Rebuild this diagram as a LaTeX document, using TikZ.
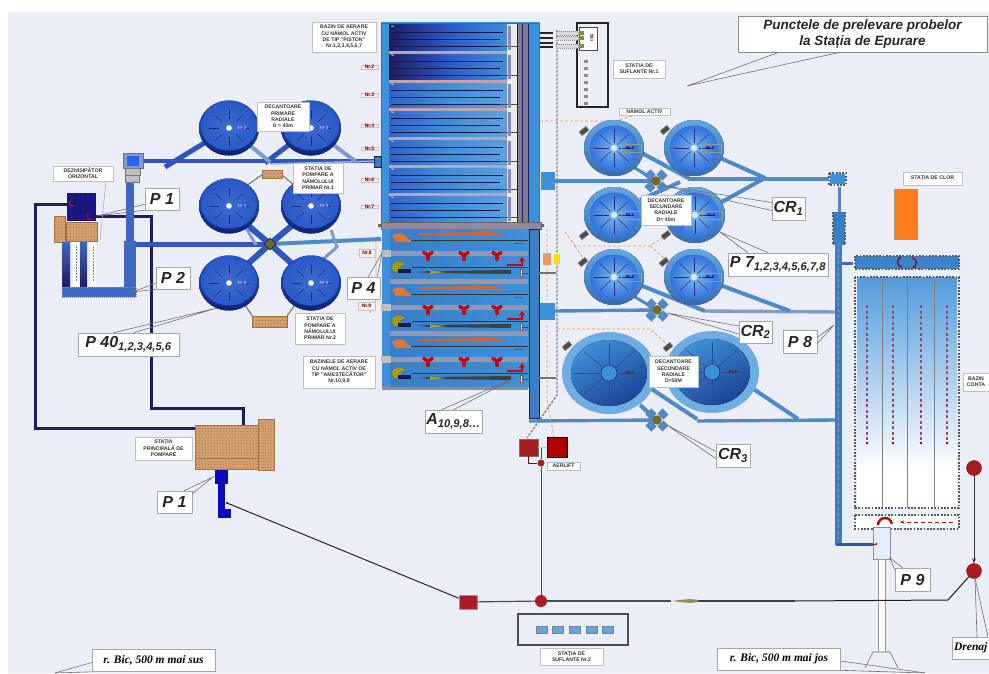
\documentclass[tikz,border=0pt]{standalone}
\usepackage{fontspec}
\setmainfont{Liberation Sans}
\newfontfamily\serifit{Liberation Serif}
\usetikzlibrary{calc,patterns,arrows.meta}
\definecolor{bgc}{HTML}{ECEEF7}
\definecolor{navy}{HTML}{1F1C62}
\definecolor{pipeD}{HTML}{2F56B8}
\definecolor{pipeM}{HTML}{3F68C2}
\definecolor{pipeL}{HTML}{4E8AC8}
\definecolor{pipeG}{HTML}{7E9CC8}
\definecolor{chan}{HTML}{3E90D8}
\definecolor{brownT}{HTML}{D6A274}
\definecolor{brownL}{HTML}{A87040}
\definecolor{leadc}{HTML}{6E6E78}
\definecolor{greyb}{HTML}{8E8AA0}
\definecolor{redd}{HTML}{A81C24}
\definecolor{oranged}{HTML}{E89A60}
\definecolor{clP}{HTML}{2A5AC8}
\definecolor{clPd}{HTML}{0E2278}
\definecolor{blob}{HTML}{D9783A}
\definecolor{dashr}{HTML}{A04A70}
\tikzset{
 lbl/.style={fill=white,draw=black!25,line width=.5pt,inner sep=0pt,align=center,font=\bfseries\fontsize{5.2}{6.4}\selectfont,text=black!80},
 nrl/.style={fill=white!92!red,draw=red!25!black!25,line width=.5pt,inner sep=0pt,font=\bfseries\fontsize{5}{6}\selectfont,text=red!40!black},
 plbl/.style={fill=white,draw=black!35,line width=.6pt,inner sep=0pt,align=center,font=\bfseries\itshape\fontsize{16}{18}\selectfont,text=black!85},
 bicl/.style={fill=white,draw=black!35,line width=.6pt,inner sep=0pt,font=\serifit\bfseries\itshape\fontsize{11.5}{13}\selectfont},
 leader/.style={draw=leadc,line width=.6pt},
 brick/.style={preaction={fill=brownT},pattern=crosshatch dots,pattern color=brownL,draw=brownL,line width=.4pt},
 crenel/.style={draw=black!65,line width=2.6pt,dash pattern=on 1.8pt off 1.5pt},
 odash/.style={draw=oranged,line width=.8pt,dash pattern=on 3pt off 2pt},
 gdash/.style={draw=black!50,line width=1.4pt,dash pattern=on 2.5pt off 1.5pt},
 navyl/.style={draw=navy,line width=3pt,line join=miter},
 pump/.style={fill=black!70,draw=black!40,line width=.5pt,rotate=40,minimum width=9pt,minimum height=5pt,inner sep=0pt},
}
\newcommand{\mylab}[7]{\pgfmathsetmacro\cxx{(#2+#4)/2}\pgfmathsetmacro\cyy{(#3+#5)/2}\pgfmathsetmacro\ww{#4-#2}\pgfmathsetmacro\hh{#5-#3}%
 \node[#6,minimum width=\ww pt,minimum height=\hh pt] (#1) at (\cxx,\cyy) {#7};}
\newcommand{\leadw}[3]{\draw[leader] (#1) -- (#3) -- (#2);}
\newcommand{\clarP}[4]{\coordinate (#1) at (#2,#3);
 \fill[top color=clP,bottom color=clPd] (#2,#3) ellipse [x radius=30pt,y radius=27.5pt];
 \shade[inner color=clP!90!white,outer color=clP] ($(#2,#3)+(0,-1.5)$) ellipse [x radius=28pt,y radius=24pt];
 \begin{scope}[shift={(#2,#3)}]\foreach \a in {0,45,...,315}{\draw[clPd!80!clP,line width=.5pt] (\a:10 and 9) -- (\a:20 and 18);}\end{scope}
 \fill[white] (#2,#3) circle (2.8pt);
 \node[font=\bfseries\fontsize{4.6}{5}\selectfont,text=white!70!blue,inner sep=0pt] (#1t) at (#2+13,#3) {#4};}
\newcommand{\clarS}[4]{\coordinate (#1) at (#2,#3);
 \fill[top color=chan!80!white,bottom color=chan!70!navy] (#2,#3) ellipse [x radius=30pt,y radius=28pt];
 \shade[inner color=chan!65!white,outer color=chan!80!blue] (#2,#3) ellipse [x radius=24pt,y radius=22.5pt];
 \begin{scope}[shift={(#2,#3)}]\foreach \a in {0,45,...,315}{\draw[navy!80!chan,line width=.5pt] (\a:5 and 5) -- (\a:20 and 19);}\end{scope}
 \fill[white!80!chan] (#2,#3) circle (3.2pt);
 \draw[black!40,line width=.3pt] (#2+7,#3-4) rectangle (#2+27,#3+4);
 \node[font=\bfseries\fontsize{4.4}{5}\selectfont,text=navy!70!black,inner sep=0pt] (#1t) at (#2+16,#3) {#4};}
\newcommand{\clarB}[4]{\coordinate (#1) at (#2,#3);
 \fill[chan!75!white] (#2,#3) ellipse [x radius=47pt,y radius=41pt];
 \fill[left color=chan,right color=clPd!70!chan,shading angle=30] (#2,#3) ellipse [x radius=38pt,y radius=33pt];
 \begin{scope}[shift={(#2,#3)}]\foreach \a in {0,45,...,315}{\draw[navy!60!chan,line width=.5pt] (\a:9 and 8) -- (\a:35 and 30);}\end{scope}
 \draw[navy!80!black,line width=.4pt,fill=chan] (#2,#3) circle (8pt);
 \node[font=\bfseries\fontsize{4.4}{5}\selectfont,text=red!60!black,inner sep=0pt] (#1t) at (#2+21,#3) {#4};}
\newcommand{\crossV}[3]{\coordinate (#1) at (#2,#3);
 \begin{scope}[shift={(#2,#3)}]
 \foreach \a in {45,135,225,315}{\draw[rotate=\a,fill=pipeL,draw=navy!60,line width=.3pt] (5,-4) rectangle (12,4);}
 \draw[fill=olive!75!black,draw=black!60,line width=.4pt] (0,0) circle (4.5pt);
 \end{scope}}
\newcommand{\redblob}[2]{\begin{scope}[shift={(#1,#2)}]\foreach \a in {30,150,270}{\fill[red!80!black,rotate=\a] (3,0) ellipse [x radius=3.4pt,y radius=2pt];}\end{scope}}
\begin{document}
\begin{tikzpicture}[x=1pt,y=-1pt]
\useasboundingbox (0,0) rectangle (989,673);
\fill[white] (0,0) rectangle (989,673);
\fill[bgc] (8,12) rectangle (989,673);

% --- navy return lines
\coordinate (gritR) at (96,216);
\coordinate (gritL) at (67,204);
\coordinate (stL) at (196,428);
\coordinate (stT) at (243,425);
\draw[navyl] (gritL) -- (35,204) -- (35,428) -- (stL);
\draw[navyl] (gritR) -- (151,216) -- (151,408) -- (243,408) -- (stT);

% --- primary pipes
\coordinate (head) at (143,161);
\coordinate (bx5) at (379,161);
\coordinate (xc) at (270,244);
\draw[pipeD,line width=4.5pt] (head) -- (bx5);
\draw[pipeL!60!white,line width=1.5pt] (270,164) -- (bx5);
\draw[pipeD,line width=5pt] (165,167) -- (229,128);
\draw[pipeD,line width=5pt] (265,163) -- (311,128);
\draw[pipeG,line width=4pt] (229,128) -- (270,162);
\draw[pipeG,line width=4pt] (311,128) -- (355,161);
\draw[pipeD,line width=5pt] (136,244) -- (xc);
\draw[pipeL,line width=4pt] (xc) -- (381,239);
\draw[pipeG,line width=4pt] (229,283) -- (xc) -- (311,283);
\draw[pipeG,line width=3pt] (229,206) -- (xc);
\draw[pipeD,line width=6pt] (241,270) -- (xc) -- (301,218);
\draw[pipeD,line width=6pt] (239,218) -- (xc) -- (299,270);
\draw[pipeG,line width=3pt] (331,230) -- (337,247) -- (320,262);
\draw[pipeG,line width=3pt] (246,228) -- (256,245);
\draw[leadc,line width=1pt] (240,190) -- (262,175) (282,175) -- (300,190) (245,305) -- (255,320) (284,320) -- (295,305);

% --- primary clarifiers
\clarP{p2}{229}{128}{Nr.2}
\clarP{p3}{311}{128}{Nr.3}
\clarP{p1}{229}{206}{Nr.1}
\clarP{p4}{311}{206}{Nr.4}
\clarP{p6}{229}{283}{Nr.6}
\clarP{p5}{311}{283}{Nr.5}
\fill[olive!70!black,draw=navy,line width=.4pt] (270,238) -- (276,244) -- (270,250) -- (264,244) -- cycle;
\draw[brick] (262,170) rectangle (282,178);
\draw[brick] (252,316) rectangle (287,327);

% --- grit remover and head works
\draw[fill=pipeM,draw=none] (126,180) rectangle (134,241);
\draw[fill=pipeM,draw=none] (124,241) rectangle (136,297);
\draw[fill=pipeM,draw=navy!50,line width=.4pt,dash pattern=on 1pt off 1pt] (62,287) rectangle (136,297);
\draw[black!55,fill=pipeD!60,line width=1pt] (123,153) rectangle (143,168);
\fill[chan!70!blue] (127,156) rectangle (139,166);
\draw[black!55,fill=black!25,line width=.8pt] (125,168) rectangle (140,175);
\draw[black!55,fill=black!25,line width=.8pt] (125,175) rectangle (139,182);
\fill[navy!90!blue] (67,193) rectangle (96,221);
\draw[blue!50!navy,line width=.3pt,step=5] (67,193) grid (96,221);
\draw[red!80!black,line width=1pt,-{Stealth[length=3pt]}] (92,219) arc (60:240:3);
\draw[red!80!black,line width=1pt,-{Stealth[length=3pt]}] (74,206) arc (60:240:3);
\draw[brick] (54,216) rectangle (65,242);
\draw[brick] (66,222) rectangle (97,241);
\fill[bottom color=navy,top color=pipeM] (62,242) rectangle (70,286);
\fill[white] (73,242) rectangle (79,286);
\fill[bottom color=navy,top color=pipeM] (80,242) rectangle (87,286);
\fill[white] (90,242) rectangle (96,286);
\draw[black!50,line width=.5pt,dash pattern=on 1.5pt off 1.5pt] (76,246) -- (76,282) (93,246) -- (93,282);

% --- aeration basin: upper
\fill[chan] (381,22) rectangle (540,229);
\draw[black!60,line width=.8pt] (381,23) rectangle (539,225);
\fill[white!82!greyb] (507,24) rectangle (517,222);
\fill[greyb!90!black] (517,24) rectangle (528,222);
\draw[navy,line width=.5pt] (517,24) -- (517,222) (522,24) -- (522,222) (528,24) -- (528,222);
\fill[left color=navy,right color=chan,middle color=clP] (389,24) rectangle (507,51);
\fill[left color=navy,right color=chan,middle color=clP] (389,53) rectangle (507,80);
\foreach \t/\b in {82/108,110/137,139/165,167/193,195/222}{
 \fill[left color=clP!80!chan,right color=chan!85!white,middle color=chan] (389,\t) rectangle (507,\b);}
\foreach \t in {24,53,82,110,139,167,195}{
 \draw[navy!80!black,line width=.6pt] (391,\t+8) -- (503,\t+8);
 \draw[navy!80!black,line width=.6pt] (391,\t+15) -- (500,\t+15);
 \draw[navy!80!black,line width=.6pt] (391,\t+22) -- (507,\t+22);
 \draw[black!70,line width=.8pt] (500,\t+22) -- (517,\t+22);
 \fill[greyb] (508,\t+2) rectangle (511,\t+26);
 \node[font=\bfseries\fontsize{2.5}{3}\selectfont,text=white,inner sep=0pt] (cellt\t) at (393,\t+3) {Nr.};
}
\foreach \y in {51,80,108,137,165,193}{\fill[greyb!55!pink] (389,\y) rectangle (507,\y+2.6);}
\fill[greyb,draw=black!60,line width=.5pt] (381,222) rectangle (541,229);
\fill[black!60] (378,224) rectangle (381,227) (541,224) rectangle (544,227);
\draw[fill=chan!80!navy,draw=navy,line width=.5pt] (374,156) rectangle (381,167);

% --- aeration basin: lower
\fill[chan] (382,229) rectangle (529,388);
\fill[greyb] (382,386) rectangle (528,390);
\draw[navy,line width=.5pt] (390,229) -- (390,386);
\foreach \d in {0,54,106}{
 \begin{scope}[yshift=-\d pt]
 \fill[left color=chan!85!navy,right color=chan] (390,229) rectangle (528,280);
 \draw[black!80,line width=.5pt] (408,240) -- (528,240) (412,267) -- (528,267);
 \fill[blob] (392,236) .. controls (398,231) and (406,233) .. (408,239) -- (411,240) -- (411,242) -- (396,242) -- cycle;
 \fill[brown!80!red] (418,233) -- (490,232) -- (507,234) -- (490,236) -- (418,235) -- cycle;
 \fill[greyb!90!white] (390,251) rectangle (528,256);
 \fill[black!25] (381,250) rectangle (391,257);
 \fill[olive!80!yellow] (392,268) .. controls (392,260) and (402,260) .. (405,264) -- (399,267) -- (405,271) .. controls (400,274) and (393,273) .. (392,268) -- cycle;
 \fill[navy!85!black] (398,269) rectangle (411,273);
 \fill[black!75] (418,272) -- (430,271) -- (511,270) -- (511,274) -- (430,273) -- cycle;
 \fill[olive!80!white] (430,270.5) -- (446,272) -- (430,274) -- cycle;
 \draw[red!80!black,line width=1.6pt,-{Stealth[length=5pt,width=6pt]}] (507,265) -- (522,265) -- (522,257);
 \draw[red!70!brown,line width=1pt] (514,243) -- (523,243);
 \fill[white!80!chan,draw=black!60,line width=.3pt] (520,269) rectangle (522,276);
 \draw[black!70,line width=.5pt] (522,273) -- (528,273);
 \redblob{428}{255}\redblob{464}{255}\redblob{497}{255}
 \end{scope}}
\fill[greyb!90!white] (390,279) rectangle (528,284);
\fill[greyb!90!white] (390,331) rectangle (528,336);

% --- central channel
\fill[chan!85!navy] (529,229) rectangle (539,418);
\draw[navy,line width=.6pt] (529,229) rectangle (539,418);
\draw[fill=chan,draw=none] (541,172) rectangle (555,190);
\draw[fill=chan,draw=none] (540,303) rectangle (555,320);
\draw[black!55,line width=2pt] (539,273) -- (556,273) (539,378) -- (556,378);

% --- secondary pipes
\coordinate (sbox) at (829,179);
\coordinate (x1) at (656,181);
\coordinate (x2) at (657,310);
\coordinate (x3) at (657,420);
\coordinate (jun) at (765,178);
\draw[pipeL,line width=3.4pt] (555,181) -- (x1);
\draw[pipeL,line width=3.4pt] (688,179) -- (sbox);
\draw[pipeL,line width=3.4pt] (555,311) -- (x2);
\draw[pipeG,line width=3.4pt] (705,311) -- (835,312);
\draw[pipeL,line width=3.4pt] (529,421) -- (x3);
\draw[pipeL,line width=3.4pt] (697,421) -- (835,420);
\draw[pipeL,line width=4pt] (640,152) -- (690,179);
\draw[pipeL,line width=4pt] (718,157) -- (jun);
\draw[pipeL,line width=4pt] (720,203) -- (jun);
\draw[pipeL,line width=4pt] (640,200) -- (680,182);
\draw[pipeL,line width=4pt] (640,285) -- (705,311);
\draw[pipeL,line width=4pt] (720,285) -- (790,311);
\draw[pipeL,line width=4pt] (650,388) -- (697,419);
\draw[pipeL,line width=4pt] (752,388) -- (798,419);
\draw[pipeL,line width=3pt] (635,168) -- (x1);
\draw[pipeL,line width=3pt] (635,297) -- (x2);
\draw[pipeL,line width=4pt] (640,405) -- (x3);

% --- orange sludge dashes and air dashes
\draw[gdash] (557,30) -- (557,395) -- (527,438);
\draw[odash] (547,229) -- (547,300) (547,325) -- (547,400) -- (554,437);
\draw[odash] (540,121) -- (615,121) -- (625,128);
\draw[odash] (615,121) -- (660,108);
\draw[odash] (565,232) -- (575,246) -- (650,246) -- (665,236);
\draw[odash] (575,246) -- (583,258);
\draw[odash] (650,246) -- (664,258);
\draw[odash] (557,329) -- (650,329) -- (668,345);

% --- secondary clarifiers
\clarS{s2}{614}{148}{Nr.2}
\clarS{s3}{694}{148}{Nr.3}
\clarS{s1}{614}{215}{Nr.1}
\clarS{s4}{695}{215}{Nr.4}
\clarS{s5}{614}{277}{Nr.5}
\clarS{s6}{694}{277}{Nr.6}
\clarB{b1}{609}{373}{Nr.7}
\clarB{b2}{712}{372}{Nr.8}
\crossV{c1}{656}{181}
\crossV{c2}{657}{310}
\crossV{c3}{657}{420}
\node[pump] (pa) at (584,131) {};
\node[pump] (pb) at (665,130) {};
\node[pump] (pc) at (584,235) {};
\node[pump] (pd) at (666,235) {};
\node[pump] (pe) at (583,262) {};
\node[pump] (pf) at (664,262) {};
\node[pump] (pg) at (567,346) {};
\node[pump] (ph) at (668,347) {};
\fill[oranged] (543,253) rectangle (551,265);
\fill[yellow!80!orange] (554,254) rectangle (560,264);

% --- blower station 1
\draw[black!85,line width=1.6pt] (577,23) rectangle (608,107);
\draw[black!70,fill=white,line width=.8pt] (579,27) rectangle (597,50);
\foreach \y in {33,38,43,47}{\draw[black!85,line width=1.2pt] (540,\y) -- (553,\y);}
\foreach \y in {33,38,46}{
 \draw[black!45,fill=black!15,line width=.4pt,dash pattern=on 1pt off 1pt] (556,\y-2) rectangle (578,\y+2);
 \fill[olive!60!chan] (579,\y-2) rectangle (584,\y+2);}
\node[font=\bfseries\fontsize{4}{4}\selectfont,rotate=-90,inner sep=0pt] (bl) at (592,38) {SS1};
\foreach \y in {60,67,...,105}{\fill[black!45] (584,\y) rectangle (588,\y+3);}

% --- contact tank
\draw[pipeL,line width=3pt] (839,187) -- (839,212);
\fill[chan!85!navy] (833,212) rectangle (845,245);
\draw[crenel,line width=1.5pt] (833,212) -- (833,245) (845,212) -- (845,245);
\fill[chan!85!navy] (835,243) rectangle (842,545);
\draw[navy!50,line width=.5pt,dash pattern=on 3pt off 3pt] (838.5,243) -- (838.5,545);
\draw[pipeM,line width=3pt] (842,263) -- (853,263);
\draw[pipeD,line width=3pt] (836,544) -- (873,544);
\draw[crenel,line width=1.2pt] (829,173) rectangle (846,185);
\fill[chan] (830,174) rectangle (845,184);
\fill[chan!90!navy] (855,256) rectangle (959,269);
\draw[crenel] (855,256) rectangle (959,269);
\draw[red!40!navy,line width=1.4pt,-{Stealth[length=3.5pt]}] (902,267) arc (90:270:4.5);
\draw[red!40!navy,line width=1.4pt,-{Stealth[length=3.5pt]}] (912,258) arc (-90:90:4.5);
\fill[top color=chan!90!white,bottom color=white] (857,277) rectangle (957,470);
\fill[white] (857,470) rectangle (957,509);
\draw[crenel] (855,277) rectangle (959,508);
\foreach \x in {882,907,934}{\draw[black!50,line width=.8pt] (\x,279) -- (\x,508);}
\foreach \x in {867,893,921,947}{\draw[dashr,line width=1.2pt,dash pattern=on 3pt off 2.5pt] (\x,305) -- (\x,443);\fill[red!60!black] (\x,443) circle (1.3pt);}
\fill[white] (856,516) rectangle (958,528);
\draw[crenel] (855,515) rectangle (959,529);
\draw[red!80!black,line width=1pt,dash pattern=on 4pt off 3pt,-{Stealth[length=4pt]}] (953,522) -- (900,522);
\draw[black!45,fill=white!85!chan,line width=.6pt] (873,527) rectangle (890,559);
\draw[red!75!black,line width=2.4pt] (878,525) arc (180:350:7);
\draw[red!70!black,line width=.8pt,-{Stealth[length=3pt]}] (873,544) -- (878,544);
\draw[black!40,fill=white,line width=.6pt] (878,559) rectangle (885,653);
\coordinate (outTL) at (873,652);
\coordinate (outTR) at (890,652);
\coordinate (outBL) at (865,668);
\coordinate (outBR) at (898,668);
\draw[black!60,fill=bgc,line width=.6pt] (outBL) -- (outTL) -- (outTR) -- (outBR);
\fill[orange!85!red!90!white] (894,189) rectangle (917,239);
\draw[black!40,line width=.4pt] (894,189) rectangle (917,239);

% --- main pump station
\fill[blue!60!navy] (215,469) rectangle (228,484);
\fill[blue!60!navy] (218,484) rectangle (225,518);
\fill[blue!60!navy] (225,509) rectangle (231,518);
\draw[brick] (195,425) rectangle (258,469);
\draw[brownL,line width=1pt] (195,458) -- (258,458);
\draw[brick] (258,419) rectangle (274,470);

% --- drainage line
\node[fill=redd,draw=black!40,line width=.5pt,minimum width=18pt,minimum height=14pt,inner sep=0pt] (sq) at (468,602) {};
\node[circle,fill=redd,minimum size=12pt,inner sep=0pt] (c1m) at (541,601) {};
\node[circle,fill=redd,draw=red!50!black,minimum size=15pt,inner sep=0pt] (drB) at (974,571) {};
\node[circle,fill=redd,draw=red!50!black,minimum size=15pt,inner sep=0pt] (drT) at (974,468) {};
\coordinate (keyp) at (227,503);
\coordinate (bendr) at (948,600);
\draw[black!85,line width=1pt] (keyp) -- (sq);
\fill[black] (227,503) circle (1.2pt);
\draw[black!70,line width=1.2pt] (sq) -- (c1m);
\draw[black!70,line width=1.2pt] (c1m) -- (671,601);
\draw[black!75,line width=2pt] (698,601) -- (795,601);
\draw[black!90,line width=1pt] (795,601) -- (bendr) -- (drB);
\fill[olive!60!black!70] (671,601) -- (690,599) -- (698,600) -- (698,602) -- (690,603) -- cycle;
\draw[black!80,line width=1pt,-{Stealth[length=5pt]}] (drT) -- (drB);

% --- blower station 2
\draw[black!70,line width=1.5pt] (518,614) rectangle (628,645);
\foreach \x in {536,552,569,586,602}{\draw[fill=chan!80!white,draw=black!50,line width=.4pt] (\x,626) rectangle (\x+11,633);}

% --- airlift
\node[fill=redd,draw=black!55,line width=.8pt,minimum width=19pt,minimum height=17pt,inner sep=0pt] (al1) at (528.5,447.5) {};
\node[fill=red!70!black,draw=black,line width=1.5pt,minimum width=20pt,minimum height=20pt,inner sep=0pt] (al2) at (557.5,447.5) {};
\node[circle,fill=redd,minimum size=7pt,inner sep=0pt] (alc) at (541,463) {};
\draw[red!50!black,line width=.8pt] (al1.south) |- (alc);
\draw[black!70,line width=.8pt] (541,447) -- (alc);
\draw[white!70!red,line width=.6pt] (al1) -- (al2);
\draw[black!70,line width=.8pt] (alc) -- (c1m);

% --- white labels
\mylab{ldez}{53}{166}{113}{181}{lbl}{DEZNISIPĂTOR\\ORIZONTAL}
\draw[leader,black!30] (106,181) -- (100,240);
\mylab{ldp}{257}{102}{309}{131}{lbl}{DECANTOARE\\PRIMARE\\RADIALE\\D = 40m}
\mylab{lsp1}{293}{163}{343}{193}{lbl}{STAȚIA DE\\POMPARE A\\NĂMOLULUI\\PRIMAR Nr.1}
\mylab{lsp2}{295}{313}{345}{344}{lbl}{STAȚIA DE\\POMPARE A\\NĂMOLULUI\\PRIMAR Nr.2}
\mylab{lbz1}{312}{22}{376}{52}{lbl}{BAZIN DE AERARE\\CU NĂMOL ACTIV\\DE TIP "PISTON"\\Nr.1,2,3,4,5,6,7}
\mylab{lbz2}{303}{356}{375}{388}{lbl}{BAZINELE DE AERARE\\CU NĂMOL ACTIV DE\\TIP "AMESTECĂTOR"\\Nr.10,9,8}
\mylab{lsf1}{613}{60}{665}{78}{lbl}{STAȚIA DE\\SUFLANTE Nr.1}
\mylab{lna}{619}{108}{670}{115}{lbl}{NĂMOL ACTIV}
\mylab{lds1}{641}{195}{691}{225}{lbl}{DECANTOARE\\SECUNDARE\\RADIALE\\D= 40m}
\mylab{lds3}{649}{356}{698}{387}{lbl}{DECANTOARE\\SECUNDARE\\RADIALE\\D=50M}
\mylab{lair}{547}{462}{580}{470}{lbl}{AERLIFT}
\mylab{lsp}{135}{437}{192}{460}{lbl}{STAȚIA\\PRINCIPALĂ DE\\POMPARE}
\mylab{lsf2}{540}{648}{603}{665}{lbl}{STAȚIA DE\\SUFLANTE Nr.2}
\mylab{lclor}{903}{172}{962}{185}{lbl}{STAȚIA DE CLOR}
\mylab{lcont}{963}{373}{989}{391}{lbl}{BAZIN\\CONTA}
\draw[leadc,line width=.3pt] (376,240) -- (376,300) -- (370,313);
\foreach \n/\y in {2/67,3/95,4/126,5/149,6/180,7/207}{
 \mylab{nr\n}{361}{\y-4}{378}{\y+4}{nrl}{Nr.\n}
}
\mylab{nr8}{359}{249}{375}{257}{nrl}{Nr.8}
\mylab{nr9}{358}{302}{375}{310}{nrl}{Nr.9}

% --- callouts
\coordinate (tP1a) at (97,216);
\coordinate (tP2) at (132,292);
\coordinate (tP40) at (217,308);
\coordinate (tP4) at (382,253);
\coordinate (tA) at (517,377);
\coordinate (tCR1) at (660,185);
\coordinate (tP7) at (720,232);
\coordinate (tCR2) at (667,313);
\coordinate (tP8) at (834,325);
\coordinate (tCR3) at (667,425);
\coordinate (tP1b) at (213,477);
\coordinate (tP9) at (890,558);
\coordinate (tDr) at (975,578);
\coordinate (tBsus) at (55,673);
\coordinate (tBjos) at (925,673);
\coordinate (tTitle) at (687,86);
\mylab{P1a}{145}{188}{179}{210}{plbl}{P 1}
\mylab{P2}{156}{267}{190}{289}{plbl}{P 2}
\mylab{P40}{78}{333}{179}{356}{plbl}{P 40\textsubscript{1,2,3,4,5,6}}
\mylab{P4}{347}{277}{380}{299}{plbl}{P 4}
\mylab{PA}{425}{410}{482}{433}{plbl}{A\textsubscript{10,9,8\dots}}
\mylab{CR1}{772}{197}{805}{220}{plbl}{CR\textsubscript{1}}
\mylab{P7}{728}{253}{828}{276}{plbl}{P 7\textsubscript{1,2,3,4,5,6,7,8}}
\mylab{CR2}{739}{321}{772}{343}{plbl}{CR\textsubscript{2}}
\mylab{P8}{783}{330}{817}{353}{plbl}{P 8}
\mylab{CR3}{716}{444}{750}{467}{plbl}{CR\textsubscript{3}}
\mylab{P1b}{157}{491}{192}{513}{plbl}{P 1}
\mylab{P9}{895}{568}{930}{591}{plbl}{P 9}
\leadw{$(P1a.south west)+(0,-6)$}{$(P1a.south west)+(0,0)$}{tP1a}
\leadw{$(P2.south west)+(0,-6)$}{$(P2.south west)+(0,0)$}{tP2}
\leadw{$(P40.north)+(-15,0)$}{$(P40.north)+(5,0)$}{tP40}
\leadw{$(P4.north east)+(-12,0)$}{$(P4.north east)+(-3,0)$}{tP4}
\leadw{$(PA.north)+(-12,0)$}{$(PA.north)+(0,0)$}{tA}
\leadw{$(CR1.west)+(0,-6)$}{$(CR1.west)+(0,2)$}{tCR1}
\leadw{$(P7.north)+(-10,0)$}{$(P7.north)+(-30,0)$}{tP7}
\leadw{$(CR2.west)+(0,-6)$}{$(CR2.west)+(0,2)$}{tCR2}
\leadw{$(P8.east)+(0,-4)$}{$(P8.east)+(0,2)$}{tP8}
\leadw{$(CR3.west)+(0,-4)$}{$(CR3.west)+(0,3)$}{tCR3}
\leadw{$(P1b.north east)+(-8,0)$}{$(P1b.north east)+(0,3)$}{tP1b}
\leadw{$(P9.north west)+(0,2)$}{$(P9.north west)+(8,0)$}{tP9}

% --- outer labels
\node[bicl,minimum width=123pt,minimum height=22pt] (bsus) at (153.5,660.5) {r. Bic, 500 m mai sus};
\draw[leader] (bsus.west) ++(0,2) -- (tBsus);
\draw[leader] (bsus.south west) -- (tBsus);
\node[bicl,minimum width=123pt,minimum height=22pt] (bjos) at (779,659) {r. Bic, 500 m mai jos};
\draw[leader] (bjos.east) ++(0,2) -- (tBjos);
\draw[leader] (bjos.south east) -- (tBjos);
\node[bicl,minimum width=37pt,minimum height=22pt,anchor=west] (drena) at (952,648) {Drenaj};
\draw[leader] (tDr) -- (977,637);
\draw[leader] (tDr) -- (988,637);

% --- title
\node[fill=white,draw=black!45,line width=.7pt,inner sep=0pt,minimum width=249pt,minimum height=36pt,align=center,font=\bfseries\itshape\fontsize{13.5}{15.5}\selectfont,text=black!85] (title) at (862.5,34) {Punctele de prelevare probelor\\la Stația de Epurare};
\draw[leader] ($(title.south west)+(41,0)$) -- (tTitle) -- ($(title.south west)+(102,0)$);
\end{tikzpicture}
\end{document}
